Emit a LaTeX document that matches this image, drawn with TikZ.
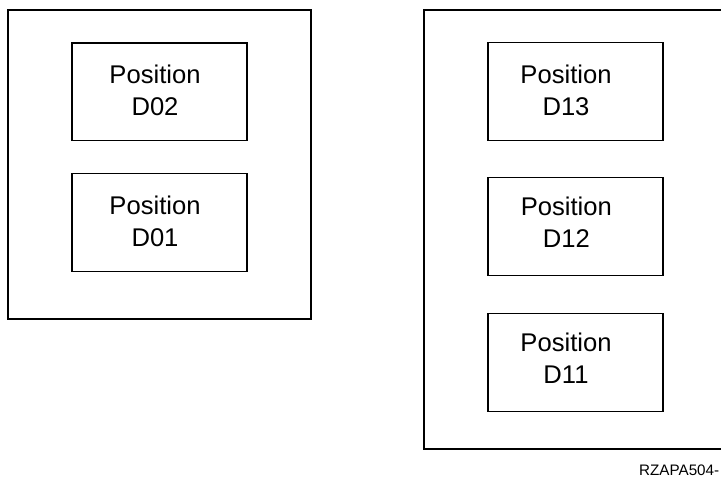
\documentclass[tikz,border=0pt]{standalone}
\usepackage{fontspec}
\setmainfont{Liberation Sans}
\usetikzlibrary{positioning}

\tikzset{
  frame/.style={line width=1.3bp,black},
  posbox/.style={draw,line width=1.3bp,minimum width=175bp,minimum height=97.5bp,inner sep=0pt},
  postext/.style={align=center,inner sep=0pt,font=\fontsize{25.6bp}{32bp}\selectfont}
}

\begin{document}
\begin{tikzpicture}[x=1bp,y=-1bp]
\useasboundingbox (0,0) rectangle (721,478);

% left frame
\draw[frame] (8,10) rectangle (311,319);
% right frame, open to the right edge
\draw[frame] (724,10) -- (424,10) -- (424,449) -- (724,449);

% positions, left
\node[posbox] (d02) at (159.5,91.75) {};
\node[posbox] (d01) at (159.5,222.5) {};
% positions, right
\node[posbox] (d13) at (575.5,91.5) {};
\node[posbox] (d12) at (575.5,226.5) {};
\node[posbox] (d11) at (575.5,362.5) {};

\foreach \b/\t/\dx/\dy in {d02/D02/-4.5/1.5, d01/D01/-4.5/1,
    d13/D13/-9.5/1.5, d12/D12/-9.2/4.3, d11/D11/-9.5/4.5}{
  \node[postext] (\b-txt) at ([xshift=\dx bp,yshift=\dy bp]\b.center) {Position\\\t};
}

\node[anchor=base west,inner sep=0pt,font=\fontsize{15.2bp}{18bp}\selectfont]
  (fig) at (639,475) {RZAPA504-};

\end{tikzpicture}
\end{document}
